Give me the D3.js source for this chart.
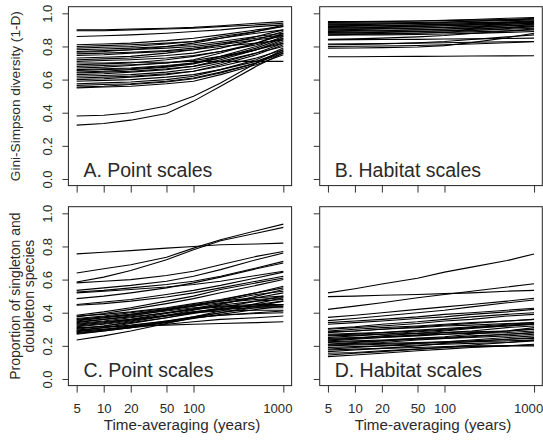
<!DOCTYPE html>
<html>
<head>
<meta charset="utf-8">
<script src="https://cdn.jsdelivr.net/npm/d3@7"></script>
<style>
  body { margin: 0; background: #fff; }
  text { font-family: "Liberation Sans", Arial, sans-serif; fill: #2a2a2a; }
</style>
</head>
<body>
<div id="chart"></div>
<script>
// time-averaging windows (years) at which each curve is evaluated
const years = [5, 10, 20, 50, 100, 200, 500, 1000];
const xTickVals = [5, 10, 20, 50, 100, 1000];
const yTickVals = [0, 0.2, 0.4, 0.6, 0.8, 1.0];

// A. Gini-Simpson, point scales
const giniPoint = [
  [0.90, 0.90, 0.905, 0.91, 0.915, 0.925, 0.94, 0.95],
  [0.895, 0.895, 0.90, 0.905, 0.91, 0.92, 0.93, 0.94],
  [0.86, 0.865, 0.87, 0.88, 0.89, 0.90, 0.92, 0.93],
  [0.81, 0.815, 0.82, 0.835, 0.85, 0.87, 0.90, 0.92],
  [0.80, 0.805, 0.81, 0.82, 0.83, 0.85, 0.88, 0.90],
  [0.79, 0.795, 0.80, 0.815, 0.83, 0.86, 0.89, 0.92],
  [0.78, 0.785, 0.79, 0.80, 0.81, 0.83, 0.86, 0.88],
  [0.77, 0.775, 0.78, 0.79, 0.80, 0.82, 0.85, 0.87],
  [0.765, 0.77, 0.78, 0.80, 0.82, 0.85, 0.89, 0.93],
  [0.755, 0.76, 0.765, 0.775, 0.79, 0.81, 0.84, 0.86],
  [0.745, 0.75, 0.76, 0.77, 0.78, 0.80, 0.82, 0.84],
  [0.73, 0.735, 0.74, 0.76, 0.78, 0.81, 0.86, 0.90],
  [0.72, 0.725, 0.73, 0.745, 0.76, 0.79, 0.84, 0.89],
  [0.71, 0.715, 0.72, 0.73, 0.745, 0.77, 0.81, 0.85],
  [0.70, 0.70, 0.705, 0.705, 0.71, 0.71, 0.71, 0.71],
  [0.69, 0.695, 0.70, 0.72, 0.74, 0.77, 0.82, 0.87],
  [0.68, 0.685, 0.69, 0.70, 0.715, 0.74, 0.78, 0.82],
  [0.67, 0.675, 0.685, 0.70, 0.72, 0.76, 0.82, 0.88],
  [0.66, 0.665, 0.67, 0.685, 0.70, 0.73, 0.78, 0.83],
  [0.655, 0.66, 0.665, 0.68, 0.70, 0.74, 0.80, 0.86],
  [0.645, 0.65, 0.66, 0.675, 0.695, 0.73, 0.79, 0.85],
  [0.64, 0.645, 0.65, 0.665, 0.68, 0.71, 0.76, 0.80],
  [0.63, 0.635, 0.645, 0.66, 0.68, 0.72, 0.78, 0.84],
  [0.62, 0.625, 0.63, 0.645, 0.665, 0.70, 0.76, 0.82],
  [0.61, 0.615, 0.62, 0.635, 0.65, 0.68, 0.73, 0.78],
  [0.60, 0.605, 0.615, 0.63, 0.65, 0.69, 0.75, 0.81],
  [0.59, 0.595, 0.60, 0.615, 0.63, 0.66, 0.71, 0.77],
  [0.575, 0.58, 0.585, 0.60, 0.62, 0.66, 0.72, 0.79],
  [0.565, 0.57, 0.575, 0.59, 0.61, 0.645, 0.70, 0.76],
  [0.555, 0.56, 0.57, 0.585, 0.605, 0.64, 0.70, 0.77],
  [0.55, 0.555, 0.56, 0.575, 0.59, 0.63, 0.69, 0.75],
  [0.38, 0.385, 0.40, 0.44, 0.50, 0.58, 0.70, 0.78],
  [0.325, 0.335, 0.355, 0.395, 0.47, 0.56, 0.68, 0.76]
];

// B. Gini-Simpson, habitat scales
const giniHabitat = [
  [0.95, 0.951, 0.952, 0.954, 0.956, 0.959, 0.962, 0.965],
  [0.945, 0.947, 0.95, 0.954, 0.958, 0.963, 0.97, 0.975],
  [0.94, 0.941, 0.943, 0.945, 0.948, 0.952, 0.956, 0.96],
  [0.935, 0.936, 0.937, 0.939, 0.941, 0.944, 0.947, 0.95],
  [0.93, 0.932, 0.935, 0.94, 0.945, 0.952, 0.962, 0.97],
  [0.925, 0.926, 0.928, 0.93, 0.933, 0.936, 0.941, 0.945],
  [0.92, 0.922, 0.925, 0.929, 0.933, 0.939, 0.947, 0.955],
  [0.915, 0.916, 0.918, 0.921, 0.925, 0.929, 0.935, 0.94],
  [0.91, 0.912, 0.915, 0.92, 0.925, 0.932, 0.942, 0.95],
  [0.905, 0.906, 0.908, 0.911, 0.914, 0.918, 0.924, 0.93],
  [0.90, 0.902, 0.905, 0.91, 0.915, 0.922, 0.932, 0.94],
  [0.895, 0.896, 0.898, 0.901, 0.904, 0.908, 0.914, 0.92],
  [0.89, 0.892, 0.895, 0.90, 0.905, 0.912, 0.925, 0.935],
  [0.885, 0.886, 0.888, 0.891, 0.894, 0.898, 0.904, 0.91],
  [0.88, 0.882, 0.885, 0.89, 0.895, 0.903, 0.915, 0.925],
  [0.875, 0.876, 0.878, 0.881, 0.884, 0.888, 0.894, 0.90],
  [0.87, 0.872, 0.875, 0.88, 0.886, 0.895, 0.908, 0.92],
  [0.868, 0.869, 0.87, 0.872, 0.875, 0.879, 0.885, 0.89],
  [0.843, 0.846, 0.85, 0.858, 0.866, 0.878, 0.893, 0.905],
  [0.84, 0.841, 0.842, 0.843, 0.845, 0.846, 0.848, 0.85],
  [0.815, 0.816, 0.818, 0.82, 0.822, 0.825, 0.828, 0.83],
  [0.81, 0.812, 0.815, 0.822, 0.83, 0.842, 0.858, 0.87],
  [0.80, 0.801, 0.803, 0.806, 0.81, 0.815, 0.822, 0.828],
  [0.79, 0.791, 0.793, 0.797, 0.805, 0.823, 0.853, 0.88],
  [0.738, 0.738, 0.739, 0.74, 0.741, 0.742, 0.743, 0.744]
];

// C. singletons + doubletons, point scales
const rarePoint = [
  [0.755, 0.765, 0.775, 0.79, 0.80, 0.81, 0.815, 0.82],
  [0.64, 0.665, 0.69, 0.735, 0.79, 0.84, 0.895, 0.935],
  [0.585, 0.615, 0.655, 0.72, 0.78, 0.835, 0.88, 0.915],
  [0.58, 0.59, 0.60, 0.625, 0.65, 0.69, 0.74, 0.77],
  [0.535, 0.55, 0.565, 0.59, 0.62, 0.66, 0.72, 0.76],
  [0.525, 0.535, 0.55, 0.57, 0.59, 0.62, 0.67, 0.71],
  [0.52, 0.53, 0.54, 0.555, 0.57, 0.59, 0.625, 0.65],
  [0.485, 0.50, 0.52, 0.55, 0.58, 0.615, 0.665, 0.70],
  [0.45, 0.465, 0.48, 0.51, 0.535, 0.565, 0.61, 0.645],
  [0.445, 0.455, 0.47, 0.495, 0.52, 0.55, 0.59, 0.62],
  [0.385, 0.405, 0.43, 0.47, 0.50, 0.54, 0.58, 0.61],
  [0.38, 0.39, 0.405, 0.43, 0.455, 0.48, 0.52, 0.55],
  [0.375, 0.395, 0.42, 0.455, 0.485, 0.52, 0.565, 0.60],
  [0.365, 0.38, 0.40, 0.425, 0.45, 0.47, 0.49, 0.50],
  [0.36, 0.375, 0.39, 0.42, 0.44, 0.46, 0.48, 0.49],
  [0.355, 0.37, 0.385, 0.41, 0.43, 0.44, 0.45, 0.45],
  [0.35, 0.37, 0.39, 0.42, 0.445, 0.47, 0.51, 0.53],
  [0.345, 0.36, 0.375, 0.40, 0.42, 0.435, 0.44, 0.44],
  [0.34, 0.36, 0.38, 0.415, 0.44, 0.475, 0.52, 0.56],
  [0.335, 0.35, 0.37, 0.40, 0.425, 0.455, 0.49, 0.52],
  [0.33, 0.345, 0.36, 0.385, 0.405, 0.42, 0.43, 0.43],
  [0.325, 0.34, 0.36, 0.395, 0.42, 0.445, 0.47, 0.48],
  [0.32, 0.335, 0.355, 0.38, 0.40, 0.41, 0.415, 0.415],
  [0.315, 0.33, 0.35, 0.385, 0.415, 0.45, 0.50, 0.54],
  [0.31, 0.315, 0.32, 0.325, 0.33, 0.335, 0.34, 0.345],
  [0.305, 0.32, 0.34, 0.37, 0.395, 0.42, 0.45, 0.47],
  [0.30, 0.32, 0.345, 0.38, 0.405, 0.425, 0.44, 0.45],
  [0.295, 0.31, 0.325, 0.35, 0.37, 0.385, 0.395, 0.40],
  [0.29, 0.31, 0.335, 0.37, 0.40, 0.43, 0.47, 0.50],
  [0.285, 0.30, 0.32, 0.35, 0.375, 0.40, 0.43, 0.45],
  [0.28, 0.295, 0.315, 0.345, 0.37, 0.385, 0.40, 0.41],
  [0.275, 0.29, 0.31, 0.34, 0.365, 0.39, 0.42, 0.44],
  [0.27, 0.29, 0.31, 0.345, 0.375, 0.41, 0.455, 0.49],
  [0.235, 0.26, 0.29, 0.335, 0.37, 0.40, 0.44, 0.47],
  [0.29, 0.30, 0.31, 0.33, 0.345, 0.36, 0.37, 0.38]
];

// D. singletons + doubletons, habitat scales
const rareHabitat = [
  [0.52, 0.545, 0.573, 0.608, 0.645, 0.675, 0.715, 0.755],
  [0.497, 0.50, 0.505, 0.51, 0.515, 0.52, 0.53, 0.535],
  [0.42, 0.44, 0.46, 0.49, 0.51, 0.53, 0.555, 0.575],
  [0.372, 0.385, 0.40, 0.42, 0.435, 0.45, 0.47, 0.487],
  [0.352, 0.365, 0.38, 0.40, 0.415, 0.435, 0.46, 0.477],
  [0.34, 0.35, 0.36, 0.375, 0.39, 0.40, 0.415, 0.427],
  [0.33, 0.34, 0.35, 0.365, 0.375, 0.39, 0.405, 0.42],
  [0.305, 0.315, 0.33, 0.345, 0.36, 0.375, 0.39, 0.40],
  [0.30, 0.31, 0.32, 0.335, 0.35, 0.36, 0.38, 0.39],
  [0.29, 0.30, 0.31, 0.32, 0.33, 0.34, 0.35, 0.36],
  [0.285, 0.29, 0.30, 0.31, 0.32, 0.325, 0.335, 0.34],
  [0.28, 0.29, 0.30, 0.315, 0.325, 0.335, 0.35, 0.36],
  [0.27, 0.275, 0.28, 0.29, 0.30, 0.31, 0.32, 0.33],
  [0.265, 0.27, 0.28, 0.295, 0.305, 0.315, 0.33, 0.34],
  [0.26, 0.265, 0.27, 0.275, 0.28, 0.285, 0.29, 0.30],
  [0.25, 0.26, 0.27, 0.285, 0.295, 0.31, 0.325, 0.335],
  [0.245, 0.25, 0.255, 0.265, 0.27, 0.28, 0.29, 0.30],
  [0.24, 0.245, 0.25, 0.26, 0.27, 0.275, 0.28, 0.29],
  [0.235, 0.245, 0.26, 0.275, 0.29, 0.305, 0.32, 0.33],
  [0.23, 0.24, 0.25, 0.265, 0.28, 0.29, 0.31, 0.32],
  [0.225, 0.23, 0.235, 0.245, 0.25, 0.26, 0.27, 0.28],
  [0.22, 0.225, 0.23, 0.24, 0.245, 0.25, 0.26, 0.27],
  [0.21, 0.22, 0.23, 0.245, 0.255, 0.27, 0.29, 0.31],
  [0.21, 0.215, 0.22, 0.235, 0.245, 0.255, 0.27, 0.28],
  [0.205, 0.21, 0.215, 0.22, 0.225, 0.23, 0.24, 0.245],
  [0.20, 0.205, 0.21, 0.215, 0.22, 0.225, 0.23, 0.235],
  [0.19, 0.195, 0.20, 0.205, 0.21, 0.215, 0.22, 0.23],
  [0.18, 0.19, 0.20, 0.215, 0.225, 0.235, 0.25, 0.26],
  [0.175, 0.18, 0.185, 0.19, 0.195, 0.20, 0.20, 0.20],
  [0.165, 0.175, 0.185, 0.20, 0.215, 0.225, 0.24, 0.25],
  [0.155, 0.16, 0.17, 0.18, 0.19, 0.195, 0.20, 0.205],
  [0.145, 0.155, 0.165, 0.18, 0.19, 0.205, 0.22, 0.235],
  [0.135, 0.145, 0.155, 0.17, 0.18, 0.19, 0.20, 0.21]
];

const panelLabels = ["A. Point scales", "B. Habitat scales", "C. Point scales", "D. Habitat scales"];
const panelData = [giniPoint, giniHabitat, rarePoint, rareHabitat];

// Plot box edges (R-style, 4% padding inside each box)
const W = 543, H = 442;
const cols = [[68.4, 291.6], [319.7, 542.3]];
const rows = [[6.7, 185.6], [206.7, 385.6]];

const svg = d3.select("#chart").append("svg")
  .attr("width", W).attr("height", H);

panelData.forEach((series, i) => {
  const [x0, x1] = cols[i % 2];
  const [y0, y1] = rows[Math.floor(i / 2)];
  const padX = (x1 - x0) * 0.04 / 1.08;
  const padY = (y1 - y0) * 0.04 / 1.08;

  const x = d3.scaleLog().domain([5, 1000]).range([x0 + padX, x1 - padX]);
  const y = d3.scaleLinear().domain([0, 1]).range([y1 - padY, y0 + padY]);

  const g = svg.append("g");

  const line = d3.line()
    .x((d, k) => x(years[k]))
    .y((d) => y(d));

  g.selectAll(".series")
    .data(series)
    .enter()
    .append("path")
    .attr("class", "series")
    .attr("d", line)
    .attr("fill", "none")
    .attr("stroke", "#000")
    .attr("stroke-width", 1.1);

  // box
  g.append("rect")
    .attr("x", x0).attr("y", y0)
    .attr("width", x1 - x0).attr("height", y1 - y0)
    .attr("fill", "none")
    .attr("stroke", "#222")
    .attr("stroke-width", 1);

  // x ticks (no axis line, box covers it)
  const xAxis = d3.axisBottom(x).tickValues(xTickVals).tickSizeOuter(0).tickSizeInner(7)
    .tickFormat(i >= 2 ? d3.format("d") : "");
  const xg = g.append("g").attr("transform", `translate(0,${y1})`).call(xAxis);
  xg.select(".domain").remove();
  xg.selectAll("line").attr("stroke", "#333");
  xg.selectAll("text")
    .attr("dy", null).attr("y", 27)
    .attr("x", (d) => (d === 1000 ? -6 : 0))
    .style("font-size", "13.2px")
    .style("font-family", "Liberation Sans, Arial, sans-serif")
    .attr("fill", "#2a2a2a");

  // y ticks
  const yAxis = d3.axisLeft(y).tickValues(yTickVals).tickSizeOuter(0).tickSizeInner(6)
    .tickFormat(i % 2 === 0 ? d3.format(".1f") : "");
  const yg = g.append("g").attr("transform", `translate(${x0},0)`).call(yAxis);
  yg.select(".domain").remove();
  yg.selectAll("line").attr("stroke", "#333");
  yg.selectAll("text")
    .attr("x", null).attr("dy", null)
    .attr("text-anchor", "middle")
    .attr("transform", `translate(${51.7 - x0},0) rotate(-90)`)
    .style("font-size", "13px")
    .style("font-family", "Liberation Sans, Arial, sans-serif")
    .attr("fill", "#2a2a2a");

  // panel label
  g.append("text")
    .attr("x", x0 + 15)
    .attr("y", y1 - 8.5)
    .style("font-size", "19.5px")
    .text(panelLabels[i]);
});

// axis titles
const cyTop = (rows[0][0] + rows[0][1]) / 2;
const cyBot = (rows[1][0] + rows[1][1]) / 2;

svg.append("text")
  .attr("transform", `translate(19.5,${cyTop}) rotate(-90)`)
  .attr("text-anchor", "middle")
  .style("font-size", "13.6px")
  .text("Gini-Simpson diversity (1-D)");

svg.append("text")
  .attr("transform", `translate(19.5,${cyBot}) rotate(-90)`)
  .attr("text-anchor", "middle")
  .style("font-size", "14px")
  .text("Proportion of singleton and");

svg.append("text")
  .attr("transform", `translate(33.5,${cyBot}) rotate(-90)`)
  .attr("text-anchor", "middle")
  .style("font-size", "14px")
  .text("doubleton species");

cols.forEach(([a, b]) => {
  svg.append("text")
    .attr("x", (a + b) / 2 + 2)
    .attr("y", 430)
    .attr("text-anchor", "middle")
    .style("font-size", "15.2px")
    .text("Time-averaging (years)");
});
</script>
</body>
</html>
